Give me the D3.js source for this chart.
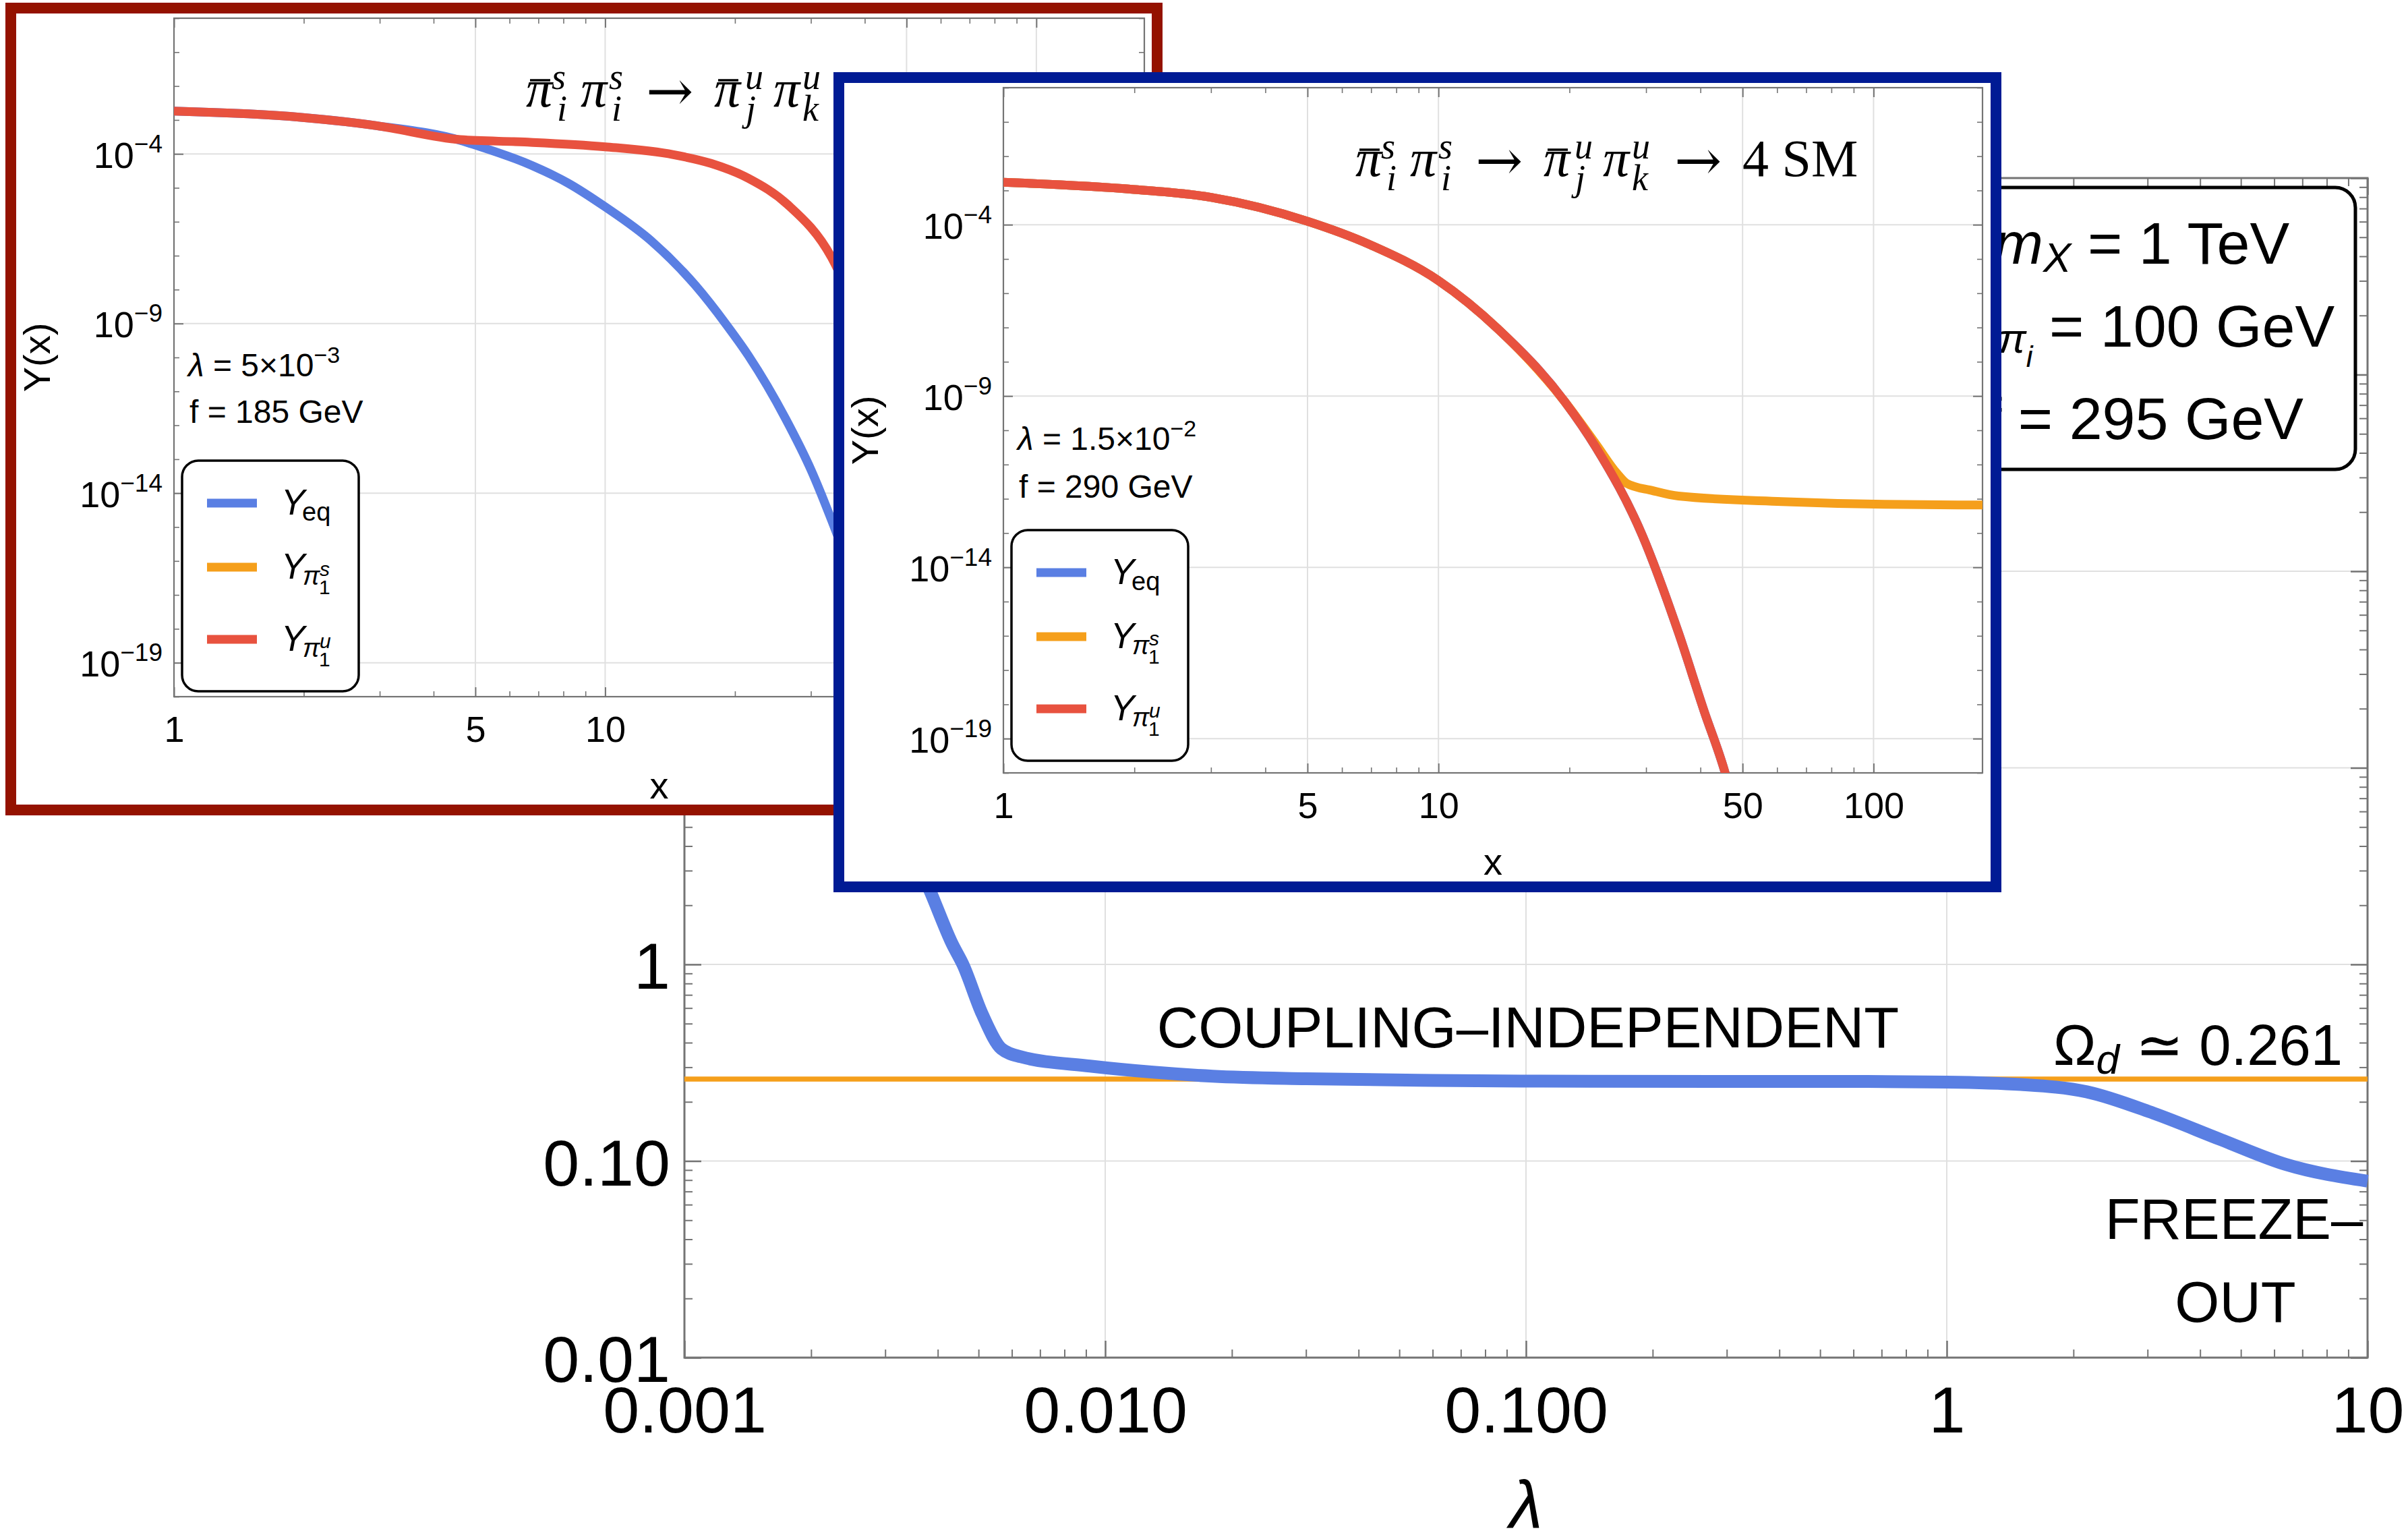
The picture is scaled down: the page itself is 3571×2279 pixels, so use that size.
<!DOCTYPE html>
<html>
<head>
<meta charset="utf-8">
<script src="https://cdn.jsdelivr.net/npm/d3@7"></script>
<style>
  body { margin: 0; background: #fff; }
  svg text { font-family: "Liberation Sans", Arial, sans-serif; }
</style>
</head>
<body>
<div id="chart"></div>
<script>
// ---- main panel: relic abundance vs coupling lambda
var lambdaVals = [0.0028, 0.0033, 0.00386, 0.00433, 0.00459, 0.0051, 0.00567, 0.0063, 0.0092, 0.013, 0.018, 0.03, 0.06, 0.1, 0.3, 0.6, 1.0, 1.5, 2.15, 3.1, 4.5, 6.4, 10];
var omegaVals  = [14, 5.0, 2.29, 1.27, 1.0, 0.56, 0.372, 0.339, 0.304, 0.283, 0.270, 0.262, 0.257, 0.255, 0.254, 0.254, 0.252, 0.245, 0.225, 0.175, 0.128, 0.096, 0.079];
var omegaObs = 0.261;
var lambdaTicks = [0.001, 0.01, 0.1, 1, 10];
var lambdaTickLabels = ["0.001", "0.010", "0.100", "1", "10"];
var omegaTicks = [0.01, 0.1, 1, 10, 100, 1000, 10000];
var omegaTickLabels = ["0.01", "0.10", "1", "10", "100", "1000", "10^4"];

// ---- insets: Y(x)
var xTicks = [1, 5, 10, 50, 100];
var xTickLabels = ["1", "5", "10", "50", "100"];
var yTicks = [1e-4, 1e-9, 1e-14, 1e-19];
var yTickLabels = ["10^\u22124", "10^\u22129", "10^\u221214", "10^\u221219"];

// left inset (lambda = 5e-3, f = 185 GeV)
var redUX  = [1, 1.97, 2.95, 4.62, 6.5, 10, 14.4, 17.6, 21.5, 26.5, 33.5, 40];
var redUY  = [1.82e-3, 1.2e-3, 6.8e-4, 2.63e-4, 2.24e-4, 1.62e-4, 9.5e-5, 5.25e-5, 1.9e-5, 3.2e-6, 8.9e-8, 5e-10];
var redEqX = [1, 1.97, 2.95, 4.62, 5, 6.5, 8.2, 10, 12.8, 16.2, 19.1, 21.5, 26.2, 30.1, 33.5, 40, 45];
var redEqY = [1.82e-3, 1.2e-3, 6.8e-4, 2.5e-4, 1.82e-4, 5.6e-5, 1.38e-5, 2.75e-6, 2.7e-7, 1.32e-8, 9.3e-10, 1.12e-10, 1.58e-12, 4.5e-14, 1.6e-15, 3.2e-18, 2.5e-20];

// right inset (lambda = 1.5e-2, f = 290 GeV)
var blueUX  = [1, 2, 3, 5, 6.92, 10, 13.7, 19.5, 23, 29.4, 35.6, 40.8, 45.4, 47];
var blueUY  = [1.74e-3, 1.07e-3, 6.3e-4, 1.26e-4, 2.7e-5, 2.34e-6, 9.1e-8, 6.9e-10, 3.2e-11, 8.7e-14, 1.26e-16, 6.3e-19, 1.2e-20, 2.5e-21];
var blueEqX = [1, 2, 3, 5, 6.92, 10, 13.7, 19.5, 23, 29.4, 35.6, 40.8, 45.4, 47];
var blueEqY = [1.74e-3, 1.07e-3, 6.3e-4, 1.26e-4, 2.7e-5, 2.34e-6, 9.1e-8, 6.9e-10, 3.2e-11, 8.7e-14, 1.26e-16, 6.3e-19, 1.2e-20, 2.5e-21];
var blueSX  = [1, 2, 3, 5, 6.92, 10, 13.7, 19.5, 23, 25.7, 27.1, 31, 35.6, 61.5, 106, 178];
var blueSY  = [1.74e-3, 1.07e-3, 6.3e-4, 1.26e-4, 2.7e-5, 2.34e-6, 9.1e-8, 6.9e-10, 4.0e-11, 5.6e-12, 2.8e-12, 1.74e-12, 1.2e-12, 8.3e-13, 6.9e-13, 6.6e-13];

var colEq = "#5a7fe3", colS = "#f59f1b", colU = "#e8523f";
var frameCol = "#747474", gridCol = "#e0e0e0";

var svg = d3.select("#chart").append("svg")
    .attr("width", 3571)
    .attr("height", 2279);
svg.append("rect").attr("width", 3571).attr("height", 2279).attr("fill", "#fff");
var defs = svg.append("defs");

function isDecade(d) {
  var l = Math.log10(d);
  return Math.abs(l - Math.round(l)) < 1e-6;
}

function tickSet(g, axisFn, scale, pos, values, len, width) {
  var a = g.append("g").attr("transform", pos)
      .call(axisFn(scale).tickValues(values).tickSize(-len).tickSizeOuter(0).tickFormat(""));
  a.select(".domain").remove();
  a.selectAll("line").attr("stroke", frameCol).attr("stroke-width", width);
}

function labelAxis(g, axisFn, scale, pos, values, labels, pad, size) {
  var a = g.append("g").attr("transform", pos)
      .call(axisFn(scale).tickValues(values).tickSize(0).tickPadding(pad)
        .tickFormat(function(d, i) { return labels[i]; }));
  a.select(".domain").remove();
  a.attr("font-size", size);
  a.selectAll("text").attr("fill", "#000");
  return a;
}

function powLabels(a, supSize, raise) {
  a.selectAll("text").each(function() {
    var t = d3.select(this), s = t.text();
    if (s.indexOf("^") < 0) return;
    var p = s.split("^");
    t.text(null);
    t.append("tspan").text(p[0]);
    t.append("tspan").attr("font-size", supSize).attr("dy", -raise).text(p[1]);
  });
}

function frame(g, b, sw) {
  g.append("rect").attr("x", b.left).attr("y", b.top)
    .attr("width", b.right - b.left).attr("height", b.bottom - b.top)
    .attr("fill", "none").attr("stroke", frameCol).attr("stroke-width", sw);
}

// ================= main panel =================
var m = {left: 1015, right: 3511, top: 264, bottom: 2013};
var x = d3.scaleLog().domain([0.001, 10]).range([m.left, m.right]);
var y = d3.scaleLog().domain([0.01, 1e4]).range([m.bottom, m.top]);

var mainG = svg.append("g");

mainG.selectAll(".vg").data(lambdaTicks.slice(1, -1)).enter().append("line")
    .attr("x1", x).attr("x2", x).attr("y1", m.top).attr("y2", m.bottom)
    .attr("stroke", gridCol).attr("stroke-width", 2);
mainG.selectAll(".hg").data(omegaTicks.slice(1, -1)).enter().append("line")
    .attr("y1", y).attr("y2", y).attr("x1", m.left).attr("x2", m.right)
    .attr("stroke", gridCol).attr("stroke-width", 2);

var xMinor = x.ticks().filter(function(d) { return !isDecade(d); });
var yMinor = y.ticks().filter(function(d) { return !isDecade(d); });

tickSet(mainG, d3.axisBottom, x, "translate(0," + m.bottom + ")", lambdaTicks, 25, 2.5);
tickSet(mainG, d3.axisBottom, x, "translate(0," + m.bottom + ")", xMinor, 12, 2);
tickSet(mainG, d3.axisTop, x, "translate(0," + m.top + ")", lambdaTicks, 25, 2.5);
tickSet(mainG, d3.axisTop, x, "translate(0," + m.top + ")", xMinor, 12, 2);
tickSet(mainG, d3.axisLeft, y, "translate(" + m.left + ",0)", omegaTicks, 25, 2.5);
tickSet(mainG, d3.axisLeft, y, "translate(" + m.left + ",0)", yMinor, 12, 2);
tickSet(mainG, d3.axisRight, y, "translate(" + m.right + ",0)", omegaTicks, 25, 2.5);
tickSet(mainG, d3.axisRight, y, "translate(" + m.right + ",0)", yMinor, 12, 2);
frame(mainG, m, 3);

labelAxis(mainG, d3.axisBottom, x, "translate(0," + m.bottom + ")", lambdaTicks, lambdaTickLabels, 42, 97);
var yl = labelAxis(mainG, d3.axisLeft, y, "translate(" + m.left + ",0)", omegaTicks, omegaTickLabels, 21, 97);
yl.selectAll("text").attr("dy", "0.37em");
powLabels(yl, 66, 40);

defs.append("clipPath").attr("id", "clip-main").append("rect")
    .attr("x", m.left).attr("y", m.top).attr("width", m.right - m.left + 10).attr("height", m.bottom - m.top);

mainG.append("line")
    .attr("x1", m.left).attr("x2", m.right)
    .attr("y1", y(omegaObs)).attr("y2", y(omegaObs))
    .attr("stroke", colS).attr("stroke-width", 7.5);

var mainLine = d3.line()
    .x(function(d) { return x(d[0]); })
    .y(function(d) { return y(d[1]); })
    .curve(d3.curveMonotoneX);

mainG.append("path")
    .datum(d3.zip(lambdaVals, omegaVals))
    .attr("clip-path", "url(#clip-main)")
    .attr("d", mainLine)
    .attr("fill", "none")
    .attr("stroke", colEq)
    .attr("stroke-width", 19)
    .attr("stroke-linejoin", "round");

mainG.append("text")
    .text("\u03bb")
    .attr("x", (m.left + m.right) / 2)
    .attr("y", 2266)
    .attr("text-anchor", "middle")
    .attr("font-size", 100)
    .style("font-style", "italic");

mainG.append("text")
    .text("COUPLING\u2013INDEPENDENT")
    .attr("x", 2266).attr("y", 1553)
    .attr("text-anchor", "middle")
    .attr("font-size", 85);

var om = mainG.append("text")
    .attr("x", 3474).attr("y", 1579)
    .attr("text-anchor", "end")
    .attr("font-size", 85);
om.append("tspan").text("\u03a9");
om.append("tspan").text("d").attr("font-size", 62).attr("dy", 13).style("font-style", "italic");
om.append("tspan").text(" \u2243 0.261").attr("dy", -13);

mainG.append("text").text("FREEZE\u2013")
    .attr("x", 3313).attr("y", 1837)
    .attr("text-anchor", "middle").attr("font-size", 85);
mainG.append("text").text("OUT")
    .attr("x", 3315).attr("y", 1960)
    .attr("text-anchor", "middle").attr("font-size", 85);

// parameter box
mainG.append("rect")
    .attr("x", 2857).attr("y", 278)
    .attr("width", 636).attr("height", 418)
    .attr("rx", 30)
    .attr("fill", "#fff").attr("stroke", "#000").attr("stroke-width", 5);

var p1 = mainG.append("text").attr("x", 3176).attr("y", 391).attr("text-anchor", "middle").attr("font-size", 88);
p1.append("tspan").text("m").style("font-style", "italic");
p1.append("tspan").text("X").attr("font-size", 62).attr("dy", 12).style("font-style", "italic");
p1.append("tspan").text(" = 1 TeV").attr("dy", -12);

var p2 = mainG.append("text").attr("x", 3176).attr("y", 514).attr("text-anchor", "middle").attr("font-size", 88);
p2.append("tspan").text("m").style("font-style", "italic");
p2.append("tspan").text("\u03c0").attr("font-size", 62).attr("dy", 9).style("font-style", "italic");
p2.append("tspan").text("i").attr("font-size", 44).attr("dy", 21).style("font-style", "italic");
p2.append("tspan").text(" = 100 GeV").attr("dy", -30);

mainG.append("text").text("f = 295 GeV")
    .attr("x", 3180).attr("y", 651).attr("text-anchor", "middle").attr("font-size", 88);

// ================= insets =================
function mathTitle(g, x0, y0, full) {
  var big = 78, small = 54;
  var parts = [
    ["\u03c0", 0, 0, big, 1], ["s", 38, -26, small, 1], ["i", 46, 21, small, 1],
    ["\u03c0", 81, 0, big, 1], ["s", 123, -26, small, 1], ["i", 127, 21, small, 1],
    ["\u03c0", 279, 0, big, 1], ["u", 325, -26, small, 1], ["j", 326, 21, small, 1],
    ["\u03c0", 367, 0, big, 1], ["u", 410, -26, small, 1], ["k", 410, 21, small, 1]
  ];
  var arrows = [178];
  if (full) {
    arrows.push(473);
    parts.push(["4 SM", 574, 0, big, 0]);
  }
  parts.forEach(function(p) {
    g.append("text")
      .text(p[0])
      .attr("x", x0 + p[1]).attr("y", y0 + p[2])
      .attr("font-size", p[3])
      .style("font-family", "'Liberation Serif', 'DejaVu Serif', serif")
      .style("font-style", p[4] ? "italic" : "normal");
  });
  arrows.forEach(function(ax) {
    g.append("text")
      .text("\u2192")
      .attr("x", x0 + ax).attr("y", y0 + 6)
      .attr("font-size", 84)
      .style("font-family", "'DejaVu Serif', serif");
  });
  [[6, 36], [285, 315]].forEach(function(b) {
    g.append("line")
      .attr("x1", x0 + b[0]).attr("x2", x0 + b[1])
      .attr("y1", y0 - 39).attr("y2", y0 - 39)
      .attr("stroke", "#000").attr("stroke-width", 3.5);
  });
}

function legend(g, lx, ly) {
  g.append("rect")
    .attr("x", lx).attr("y", ly)
    .attr("width", 262).attr("height", 342)
    .attr("rx", 24)
    .attr("fill", "#fff").attr("stroke", "#000").attr("stroke-width", 3.5);
  var rows = [[63, colEq, "eq"], [158, colS, "s"], [265, colU, "u"]];
  rows.forEach(function(r) {
    var cy = ly + r[0];
    g.append("line")
      .attr("x1", lx + 37).attr("x2", lx + 111)
      .attr("y1", cy).attr("y2", cy)
      .attr("stroke", r[1]).attr("stroke-width", 13);
    g.append("text").text("Y")
      .attr("x", lx + 147).attr("y", cy + 17)
      .attr("font-size", 53).style("font-style", "italic");
    if (r[2] === "eq") {
      g.append("text").text("eq")
        .attr("x", lx + 178).attr("y", cy + 26)
        .attr("font-size", 38);
    } else {
      g.append("text").text("\u03c0")
        .attr("x", lx + 179).attr("y", cy + 26)
        .attr("font-size", 38).style("font-style", "italic");
      g.append("text").text(r[2])
        .attr("x", lx + 204).attr("y", cy + 13)
        .attr("font-size", 30).style("font-style", "italic");
      g.append("text").text("1")
        .attr("x", lx + 203).attr("y", cy + 40)
        .attr("font-size", 30);
    }
  });
}

function drawInset(cfg) {
  var g = svg.append("g");
  var b = cfg.box, p = cfg.plot;

  g.append("rect")
    .attr("x", b[0]).attr("y", b[1]).attr("width", b[2]).attr("height", b[3])
    .attr("fill", "#fff").attr("stroke", cfg.border).attr("stroke-width", 16);

  var xs = d3.scaleLog().domain([1, 178]).range([p.left, p.right]);
  var ys = d3.scaleLog().domain([1e-20, 1]).range([p.bottom, p.top]);

  g.selectAll(".vg").data(xTicks.slice(1)).enter().append("line")
    .attr("x1", xs).attr("x2", xs).attr("y1", p.top).attr("y2", p.bottom)
    .attr("stroke", gridCol).attr("stroke-width", 2);
  g.selectAll(".hg").data(yTicks).enter().append("line")
    .attr("y1", ys).attr("y2", ys).attr("x1", p.left).attr("x2", p.right)
    .attr("stroke", gridCol).attr("stroke-width", 2);

  var xm = xs.ticks().filter(function(d) { return xTicks.indexOf(d) < 0; });
  var ym = d3.range(-20, 1).map(function(e) { return Math.pow(10, e); })
      .filter(function(d) { return yTicks.every(function(t) { return Math.abs(Math.log10(t / d)) > 1e-6; }); });

  tickSet(g, d3.axisBottom, xs, "translate(0," + p.bottom + ")", xTicks, 14, 2);
  tickSet(g, d3.axisBottom, xs, "translate(0," + p.bottom + ")", xm, 8, 1.6);
  tickSet(g, d3.axisTop, xs, "translate(0," + p.top + ")", xTicks, 14, 2);
  tickSet(g, d3.axisTop, xs, "translate(0," + p.top + ")", xm, 8, 1.6);
  tickSet(g, d3.axisLeft, ys, "translate(" + p.left + ",0)", yTicks, 14, 2);
  tickSet(g, d3.axisLeft, ys, "translate(" + p.left + ",0)", ym, 8, 1.6);
  tickSet(g, d3.axisRight, ys, "translate(" + p.right + ",0)", yTicks, 14, 2);
  tickSet(g, d3.axisRight, ys, "translate(" + p.right + ",0)", ym, 8, 1.6);
  frame(g, p, 2.2);

  labelAxis(g, d3.axisBottom, xs, "translate(0," + p.bottom + ")", xTicks, xTickLabels, 29, 54);
  var yl = labelAxis(g, d3.axisLeft, ys, "translate(" + p.left + ",0)", yTicks, yTickLabels, 17, 54);
  yl.selectAll("text").attr("dy", "0.37em");
  powLabels(yl, 37, 23);

  defs.append("clipPath").attr("id", cfg.id).append("rect")
    .attr("x", p.left).attr("y", p.top).attr("width", p.right - p.left).attr("height", p.bottom - p.top);

  var line = d3.line()
    .x(function(d) { return xs(d[0]); })
    .y(function(d) { return ys(d[1]); })
    .curve(d3.curveMonotoneX);

  var curves = g.append("g").attr("clip-path", "url(#" + cfg.id + ")");
  cfg.series.forEach(function(s) {
    curves.append("path")
      .datum(d3.zip(s.x, s.y))
      .attr("d", line)
      .attr("fill", "none")
      .attr("stroke", s.color)
      .attr("stroke-width", 13)
      .attr("stroke-linejoin", "round");
  });

  mathTitle(g, p.left + 522, p.top + 131, cfg.full);

  var lt = g.append("text").attr("x", p.left + 21).attr("y", p.top + cfg.lamY).attr("font-size", 48);
  lt.append("tspan").text("\u03bb").style("font-style", "italic");
  lt.append("tspan").text(" = " + cfg.lamBase + "\u00d710");
  lt.append("tspan").text(cfg.lamExp).attr("font-size", 34).attr("dy", -20);

  g.append("text").text(cfg.fText)
    .attr("x", p.left + 23).attr("y", p.top + cfg.fY)
    .attr("font-size", 48);

  legend(g, p.left + 12, p.top + 656);

  g.append("text").text("Y(x)")
    .attr("transform", "translate(" + (b[0] + 58) + "," + ((p.top + p.bottom) / 2) + ") rotate(-90)")
    .attr("text-anchor", "middle")
    .attr("font-size", 56);

  g.append("text").text("x")
    .attr("x", (p.left + p.right) / 2).attr("y", p.bottom + 151)
    .attr("text-anchor", "middle")
    .attr("font-size", 56);
}

drawInset({
  id: "clip-red",
  box: [16, 12, 1700, 1189],
  border: "#941200",
  plot: {left: 258, right: 1697, top: 27, bottom: 1033},
  series: [
    {x: redEqX, y: redEqY, color: colEq},
    {x: redUX, y: redUY, color: colU}
  ],
  full: false,
  lamBase: "5", lamExp: "\u22123", lamY: 531,
  fText: "f = 185 GeV", fY: 600
});

drawInset({
  id: "clip-blue",
  box: [1244, 115, 1716, 1200],
  border: "#001b94",
  plot: {left: 1488, right: 2940, top: 130, bottom: 1146},
  series: [
    {x: blueEqX, y: blueEqY, color: colEq},
    {x: blueSX, y: blueSY, color: colS},
    {x: blueUX, y: blueUY, color: colU}
  ],
  full: true,
  lamBase: "1.5", lamExp: "\u22122", lamY: 537,
  fText: "f = 290 GeV", fY: 608
});
</script>
</body>
</html>
